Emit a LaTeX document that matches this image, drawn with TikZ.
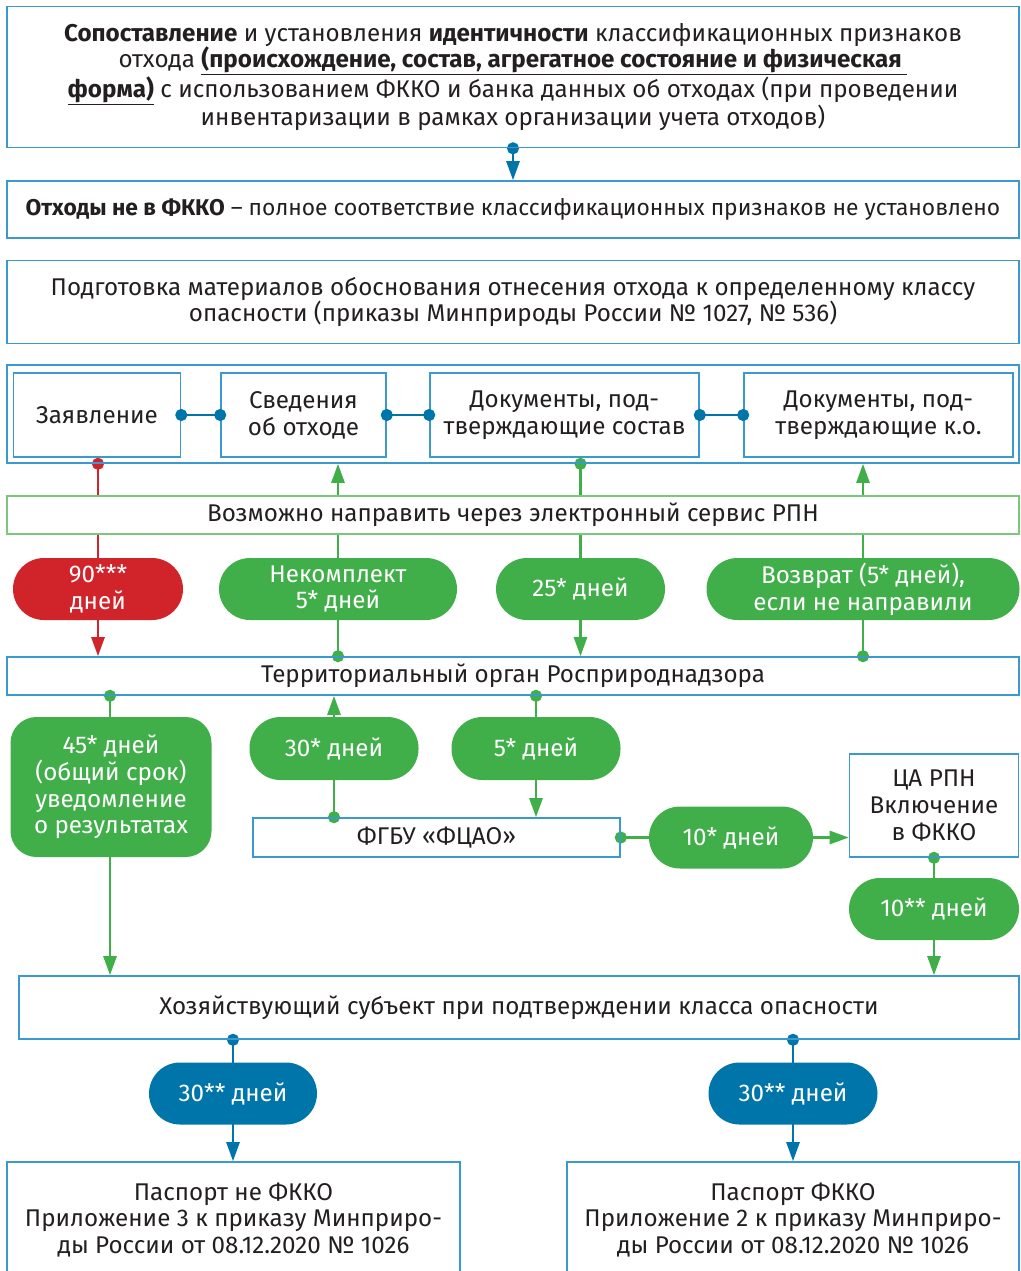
\documentclass[tikz,border=0pt]{standalone}
\usepackage{fontspec}
\setmainfont{Fira Sans}
\usetikzlibrary{arrows.meta,backgrounds,positioning}

\definecolor{rpnblue}{RGB}{0,117,169}
\definecolor{edgeblue}{RGB}{58,154,208}
\definecolor{rpngreen}{RGB}{64,174,73}
\definecolor{edgegreen}{RGB}{125,198,125}
\definecolor{rpnred}{RGB}{209,35,42}
\definecolor{txtgray}{RGB}{35,31,32}

\tikzset{
    box/.style={draw=edgeblue, line width=1.6pt, text=txtgray, align=center, inner sep=0pt},
    pill/.style={fill=#1, text=white, align=center, inner sep=0pt, rounded corners=31pt},
    pill/.default=rpngreen,
    link/.style={draw=#1, line width=2.6pt, shorten <=-6pt,
        {Circle[length=12pt]}-{Triangle[length=19pt,width=13pt]}},
    twodots/.style={draw=rpnblue, line width=2.6pt, shorten <=-6pt, shorten >=-6pt,
        {Circle[length=12pt]}-{Circle[length=12pt]}}
}

\begin{document}
\begin{tikzpicture}[x=1pt, y=-1pt, font=\fontsize{24.2pt}{26.8pt}\selectfont]
    \useasboundingbox (0,0) rectangle (1020,1271);

    % Top boxes
    \node[box, minimum width=1012pt, minimum height=141pt] (ident) at (513,77)
        {\textbf{Сопоставление} и установления \textbf{идентичности} классификационных признаков\\
         отхода \underline{\textbf{(происхождение, состав, агрегатное состояние и физическая\ }}\\
         \underline{\textbf{форма)}} с использованием ФККО и банка данных об отходах (при проведении\\
         инвентаризации в рамках организации учета отходов)};
    \node[box, font=\fontsize{22.8pt}{26.8pt}\selectfont, minimum width=1012pt, minimum height=57pt] (notfkko) at (513,209.5)
        {\textbf{Отходы не в ФККО} – полное соответствие классификационных признаков не установлено};
    \node[box, minimum width=1012pt, minimum height=83pt] (prep) at (513,302)
        {Подготовка материалов обоснования отнесения отхода к определенному классу\\
         опасности (приказы Минприроды России № 1027, № 536)};

    % Documents
    \node[box, minimum width=1012pt, minimum height=98pt] (docs) at (513,414) {};
    \node[box, minimum width=167pt, minimum height=84pt] (zayav) at (97,415) {Заявление};
    \node[box, minimum width=165pt, minimum height=84pt] (sved) at (303.5,415) {Сведения\\об отходе};
    \node[box, minimum width=269pt, minimum height=84pt] (sostav) at (564.5,415) {Документы, под-\\тверждающие состав};
    \node[box, minimum width=269pt, minimum height=84pt] (klass) at (878.5,415) {Документы, под-\\тверждающие к.о.};
    \draw[twodots] (zayav) -- (sved);
    \draw[twodots] (sved) -- (sostav);
    \draw[twodots] (sostav) -- (klass);

    \node[box, draw=edgegreen, fill=white, minimum width=1012pt, minimum height=38pt] (epgu) at (513,515)
        {Возможно направить через электронный сервис РПН};

    % Terms to RPN
    \node[pill=rpnred, minimum width=170pt, minimum height=62pt] (d90) at (98,589) {90***\\дней};
    \node[pill, minimum width=238pt, minimum height=62pt] (dnek) at (338,589) {Некомплект\\5* дней};
    \node[pill, minimum width=169pt, minimum height=62pt] (d25) at (580.5,589) {25* дней};
    \node[pill, minimum width=313pt, minimum height=62pt] (dvoz) at (863,589) {Возврат (5* дней),\\если не направили};

    \node[box, minimum width=1012pt, minimum height=38pt] (rpn) at (513,676) {Территориальный орган Росприроднадзора};

    % Expertise
    \node[pill, rounded corners=26pt, minimum width=201pt, minimum height=140pt] (d45) at (111,787)
        {45* дней\\(общий срок)\\уведомление\\о результатах};
    \node[pill, minimum width=169pt, minimum height=63pt] (d30) at (334,748.5) {30* дней};
    \node[pill, minimum width=169pt, minimum height=63pt] (d5) at (536,748.5) {5* дней};
    \node[box, minimum width=367pt, minimum height=39pt] (fgbu) at (436.5,837.5) {ФГБУ «ФЦАО»};
    \node[pill, minimum width=164pt, minimum height=62pt] (d10) at (731,837.5) {10* дней};
    \node[box, minimum width=169pt, minimum height=103pt] (capn) at (934,805.5) {ЦА РПН\\Включение\\в ФККО};
    \node[pill, minimum width=170pt, minimum height=62pt] (d10b) at (934,909) {10** дней};

    \node[box, minimum width=1000pt, minimum height=63pt] (subj) at (519,1007.5)
        {Хозяйствующий субъект при подтверждении класса опасности};

    % Passports
    \node[pill=rpnblue, minimum width=168pt, minimum height=62pt] (d30l) at (233,1093.5) {30** дней};
    \node[pill=rpnblue, minimum width=169pt, minimum height=62pt] (d30r) at (793,1093.5) {30** дней};
    \node[box, minimum width=453pt, minimum height=116pt] (passno) at (233.5,1220)
        {Паспорт не ФККО\\Приложение 3 к приказу Минприро-\\ды России от 08.12.2020 № 1026};
    \node[box, minimum width=452pt, minimum height=116pt] (passyes) at (793,1220)
        {Паспорт ФККО\\Приложение 2 к приказу Минприро-\\ды России от 08.12.2020 № 1026};

    % Connectors
    \begin{scope}[on background layer]
        \draw[link=rpnblue] (ident.south) -- (notfkko.north);
        \draw[link=rpnred] (d90 |- docs.south) -- (d90 |- rpn.north);
        \draw[link=rpngreen] (dnek |- rpn.north) -- (dnek |- docs.south);
        \draw[link=rpngreen] (d25 |- docs.south) -- (d25 |- rpn.north);
        \draw[link=rpngreen] (dvoz |- rpn.north) -- (dvoz |- docs.south);
        \draw[link=rpngreen] (110,0 |- rpn.south) -- (110,0 |- subj.north);
        \draw[link=rpngreen] (d30 |- fgbu.north) -- (d30 |- rpn.south);
        \draw[link=rpngreen] (d5 |- rpn.south) -- (d5 |- fgbu.north);
        \draw[link=rpngreen] (fgbu.east) -- (fgbu.east -| capn.west);
        \draw[link=rpngreen] (capn.south) -- (capn.south |- subj.north);
        \draw[link=rpnblue] (d30l |- subj.south) -- (d30l |- passno.north);
        \draw[link=rpnblue] (d30r |- subj.south) -- (d30r |- passyes.north);
    \end{scope}
\end{tikzpicture}
\end{document}
